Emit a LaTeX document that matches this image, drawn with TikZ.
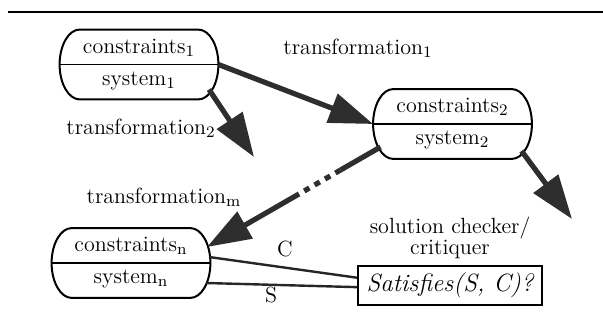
\documentclass[tikz,border=0pt]{standalone}
\usetikzlibrary{arrows.meta,calc}
\newcommand{\drawstadium}[1]{%
  \draw[line width=1pt]
    ($(#1.north west)+(10pt,0)$) -- ($(#1.north east)+(-10pt,0)$)
    .. controls +(5.52pt,0) and +(0,9.53pt) .. (#1.east)
    .. controls +(0,-9.53pt) and +(5.52pt,0) .. ($(#1.south east)+(-10pt,0)$)
    -- ($(#1.south west)+(10pt,0)$)
    .. controls +(-5.52pt,0) and +(0,-9.53pt) .. (#1.west)
    .. controls +(0,9.53pt) and +(-5.52pt,0) .. ($(#1.north west)+(10pt,0)$) -- cycle;
  \draw[line width=0.9pt] (#1.west) -- (#1.east);}
\begin{document}
\begin{tikzpicture}[x=0.5pt,y=-0.5pt,
  stadium/.style={rectangle, minimum width=79pt, minimum height=34.5pt, inner sep=0pt},
  lbl/.style={font=\fontsize{11}{13}\selectfont, inner sep=0pt},
  bigarrow/.style={draw=black!82, line width=2.6pt, -{Triangle[length=22pt,width=15pt]}},
  thickline/.style={draw=black!82, line width=2.6pt},
  dotline/.style={draw=black!82, line width=2.6pt, dash pattern=on 3pt off 3pt},
  thinline/.style={draw=black!85, line width=1.2pt},
  checkbox/.style={draw, line width=1pt, minimum width=92pt, minimum height=19.5pt, inner sep=0pt,
    font=\fontsize{12.5}{14}\selectfont\itshape}]
\useasboundingbox (0,0) rectangle (603,325);
% top rule
\coordinate (r1) at (8,12);
\coordinate (r2) at (603,12);
\draw[line width=1.2pt] (r1) -- (r2);
% nodes
\node[stadium] (n1) at (139,64.5) {};
\node[stadium] (n2) at (452.5,124) {};
\node[stadium] (nn) at (131,263) {};
\drawstadium{n1}
\drawstadium{n2}
\drawstadium{nn}
\node[lbl] (c1) at ($(n1.center)+(0,-17)$) {constraints$_1$};
\node[lbl] (s1) at ($(n1.center)+(0,16)$) {system$_1$};
\node[lbl] (c2) at ($(n2.center)+(0,-17)$) {constraints$_2$};
\node[lbl] (s2) at ($(n2.center)+(0,16)$) {system$_2$};
\node[lbl] (cn) at ($(nn.center)+(0,-17)$) {constraints$_{\mathrm{n}}$};
\node[lbl] (sn) at ($(nn.center)+(0,16)$) {system$_{\mathrm{n}}$};
% checker
\node[checkbox] (sat) at (450,285.5) {Satisfies(S, C)?};
\node[lbl, align=center, font=\fontsize{11}{10.5}\selectfont] (chk) at (450,238) {solution checker/\\critiquer};
% transformation labels
\node[lbl] (t1l) at (358,48) {transformation$_1$};
\node[lbl] (t2l) at (141,128) {transformation$_2$};
\node[lbl] (tml) at (164,197) {transformation$_{\mathrm{m}}$};
% connection points on the outlines
\coordinate (a2s) at ($(n1.center)+(35pt,-12.5pt)$);
\coordinate (a3s) at ($(n2.center)+(34.5pt,-13.5pt)$);
\coordinate (ams) at ($(n2.center)+(-36pt,-11.5pt)$);
\coordinate (amt) at ($(nn.center)+(38pt,8pt)$);
\coordinate (cs) at ($(nn.center)+(39pt,3pt)$);
\coordinate (ss) at ($(nn.center)+(37.5pt,-10pt)$);
% arrows
\coordinate (t2) at (254,157);
\coordinate (t3) at (572,219);
\draw[bigarrow] (n1.east) -- (n2.west);
\draw[bigarrow] (a2s) -- (t2);
\draw[bigarrow] (a3s) -- (t3);
\coordinate (m1) at ($(ams)!0.23!(amt)$);
\coordinate (m2) at ($(ams)!0.47!(amt)$);
\draw[thickline] (ams) -- (m1);
\draw[dotline] (m1) -- (m2);
\draw[bigarrow] (m2) -- (amt);
% C and S lines
\draw[thinline] (cs) -- ($(sat.north west)!0.31!(sat.south west)$);
\draw[thinline] (ss) -- ($(sat.north west)!0.54!(sat.south west)$);
\node[lbl] (cl) at (285,249) {C};
\node[lbl] (sl) at (271,295) {S};
\end{tikzpicture}
\end{document}
